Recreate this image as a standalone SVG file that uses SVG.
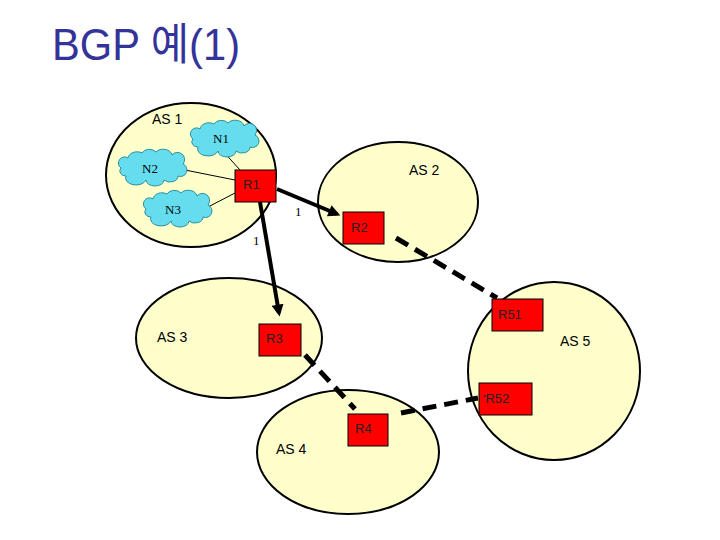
<svg xmlns="http://www.w3.org/2000/svg" width="720" height="540" viewBox="0 0 720 540">
<style>
.as{fill:#ffffcc;stroke:#000;stroke-width:2}
.rt{fill:#ff0000;stroke:#000;stroke-width:1}
.cl{fill:#66ddee;stroke:#2a8fa0;stroke-width:1}
.lbl{font-family:"Liberation Sans",Arial,sans-serif;font-size:14px;fill:#000}
.rl{font-family:"Liberation Sans",Arial,sans-serif;font-size:13px;fill:#222}
.nl{font-family:"Liberation Serif","Times New Roman",serif;font-size:13px;fill:#000}
.thin{stroke:#000;stroke-width:1;fill:none}
.thick{stroke:#000;stroke-width:4;fill:none}
.dash{stroke:#000;stroke-width:5;fill:none;stroke-dasharray:14 8}
</style>
<defs>
<marker id="ah" viewBox="0 0 10 10" refX="7" refY="5" markerWidth="3.5" markerHeight="3" orient="auto">
<path d="M0,0 L10,5 L0,10 Z" fill="#000"/>
</marker>
<path id="cloud" d="M -26,10 A 6 5 0 0 1 -31,2 A 6 6 0 0 1 -24,-8 A 9 7 0 0 1 -10,-13 A 8 6 0 0 1 4,-14 A 9 7 0 0 1 20,-11 A 7 7 0 0 1 31,-2 A 6 6 0 0 1 26,10 A 8 6 0 0 1 12,14 A 9 6 0 0 1 -6,14 A 9 6 0 0 1 -26,10 Z"/>
</defs>
<rect width="720" height="540" fill="#fff"/>
<text x="52" y="60" font-family="'Liberation Sans','Noto Sans CJK KR',sans-serif" font-size="44" fill="#333399" textLength="188" lengthAdjust="spacingAndGlyphs">BGP 예(1)</text>

<g id="as1"><ellipse class="as" cx="191" cy="175" rx="85" ry="72"/><text class="lbl" x="152" y="124">AS 1</text></g>
<g id="as2"><ellipse class="as" cx="398" cy="202" rx="80" ry="60"/><text class="lbl" x="409" y="175">AS 2</text></g>
<g id="as3"><ellipse class="as" cx="229" cy="338" rx="93" ry="60"/><text class="lbl" x="157" y="342">AS 3</text></g>
<g id="as4"><ellipse class="as" cx="348" cy="452" rx="91" ry="62"/><text class="lbl" x="276" y="454">AS 4</text></g>
<g id="as5"><ellipse class="as" cx="554" cy="371" rx="86" ry="89"/><text class="lbl" x="560" y="346">AS 5</text></g>

<g id="connectors">
<line class="thin" x1="222" y1="150" x2="240" y2="170"/>
<line class="thin" x1="185" y1="170" x2="235" y2="180"/>
<line class="thin" x1="208" y1="207" x2="235" y2="193"/>
<line class="thick" x1="277" y1="189" x2="337" y2="214" marker-end="url(#ah)"/>
<line class="thick" x1="260" y1="202" x2="279" y2="313" marker-end="url(#ah)"/>
<line class="dash" x1="396" y1="238" x2="497" y2="298"/>
<line class="dash" x1="305" y1="355" x2="355" y2="409"/>
<line class="dash" x1="401" y1="413" x2="478" y2="398"/>
<text class="nl" x="295" y="216">1</text>
<text class="nl" x="253" y="245">1</text>
</g>

<g id="n1"><use href="#cloud" class="cl" transform="translate(224,137)"/><text class="nl" x="221" y="143" text-anchor="middle">N1</text></g>
<g id="n2"><use href="#cloud" class="cl" transform="translate(152,166)"/><text class="nl" x="150" y="173" text-anchor="middle">N2</text></g>
<g id="n3"><use href="#cloud" class="cl" transform="translate(177,207)"/><text class="nl" x="173" y="214" text-anchor="middle">N3</text></g>

<g id="r1"><rect class="rt" x="235" y="170" width="41" height="32"/><text class="rl" x="243" y="189">R1</text></g>
<g id="r2"><rect class="rt" x="343" y="212" width="41" height="32"/><text class="rl" x="351" y="232">R2</text></g>
<g id="r3"><rect class="rt" x="259" y="324" width="42" height="32"/><text class="rl" x="266" y="343">R3</text></g>
<g id="r51"><rect class="rt" x="492" y="299" width="51" height="32"/><text class="rl" x="498" y="319">R51</text></g>
<g id="r52"><rect class="rt" x="479" y="383" width="53" height="32"/><text class="rl" x="483" y="403"><tspan font-size="7" dy="-5">•</tspan><tspan dy="5">R52</tspan></text></g>
<g id="r4"><rect class="rt" x="348" y="414" width="40" height="32"/><text class="rl" x="355" y="433">R4</text></g>
</svg>
